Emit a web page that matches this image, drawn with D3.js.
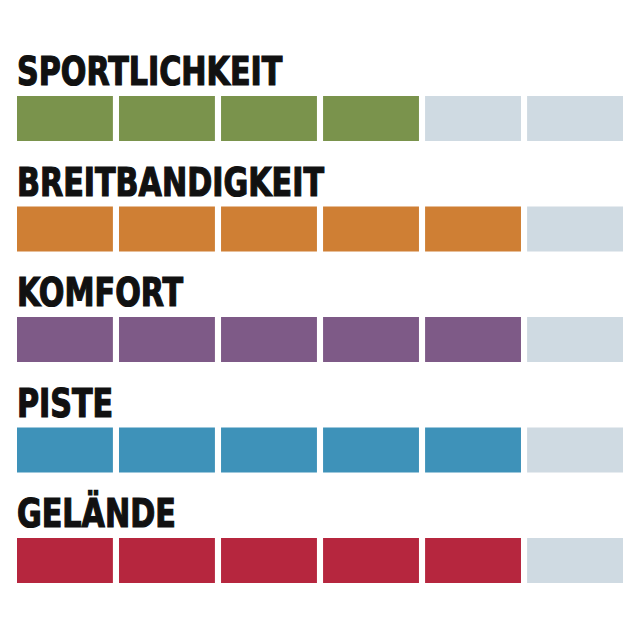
<!DOCTYPE html>
<html>
<head>
<meta charset="utf-8">
<script src="https://cdn.jsdelivr.net/npm/d3@7"></script>
<style>
  body { margin: 0; background: #fff; }
  svg { display: block; }
</style>
</head>
<body>
<div id="chart"></div>
<script>
// rating categories and their scores (out of 6 segments)
const categories = ["SPORTLICHKEIT", "BREITBANDIGKEIT", "KOMFORT", "PISTE", "GELÄNDE"];
const scores = [4, 5, 5, 5, 5];
const maxScore = 6;
const colours = ["#7a934c", "#cf7f34", "#7e5a87", "#3e92b9", "#b6263e"];
const emptyColour = "#cfdae2";

const width = 640, height = 640;

const svg = d3.select("#chart")
  .append("svg")
    .attr("width", width)
    .attr("height", height);

// segment positions along each bar
const x = d3.scaleBand()
  .domain(d3.range(maxScore))
  .range([17, 623])
  .paddingInner(0.06);

// row positions (top of each bar)
const y = d3.scalePoint()
  .domain(categories)
  .range([96, 538]);

const barHeight = 45;

const rows = svg.selectAll("g.row")
  .data(categories.map((c, i) => ({ name: c, score: scores[i], colour: colours[i] })))
  .enter()
  .append("g")
    .attr("class", "row")
    .attr("transform", d => `translate(0,${y(d.name)})`);

// the label above each bar (squeezed a bit to look condensed)
rows.append("text")
  .attr("transform", "translate(17,-11) scale(0.86,1)")
  .style("font-family", "'DejaVu Sans Condensed', sans-serif")
  .style("font-weight", "bold")
  .style("font-size", "39px")
  .style("fill", "#111")
  .style("stroke", "#111")
  .style("stroke-width", 1.2)
  .text(d => d.name);

// the segments, filled up to the score
rows.selectAll("rect")
  .data(d => d3.range(maxScore).map(i => ({ i, filled: i < d.score, colour: d.colour })))
  .enter()
  .append("rect")
    .attr("x", d => x(d.i))
    .attr("y", 0)
    .attr("width", x.bandwidth())
    .attr("height", barHeight)
    .attr("fill", d => d.filled ? d.colour : emptyColour);
</script>
</body>
</html>
